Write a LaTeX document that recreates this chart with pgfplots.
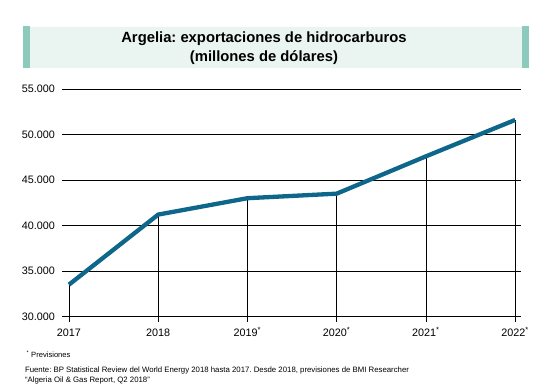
\documentclass[border=0pt]{standalone}
\usepackage{pgfplots}
\pgfplotsset{compat=1.18}
\usepackage{fontspec}
\setmainfont{Liberation Sans}
\frenchspacing
\definecolor{linec}{RGB}{14,102,138}
\definecolor{barc}{RGB}{140,203,188}
\definecolor{boxc}{RGB}{234,245,241}
\begin{document}
\begin{tikzpicture}[x=1pt,y=1pt]
\path[use as bounding box] (0,0) rectangle (548,386);
\fill[boxc] (30,359) rectangle (522,318.3);
\fill[barc] (23,360) rectangle (30,318.3);
\fill[barc] (522,360) rectangle (529,318.3);
\node[font=\bfseries\fontsize{14.8}{18.5}\selectfont, align=center] at (264,338) {Argelia: exportaciones de hidrocarburos\\(millones de dólares)};
\begin{axis}[
  at={(62pt,69.5pt)}, anchor=south west, scale only axis,
  width=458.5pt, height=227.5pt,
  xmin=2016.922, xmax=2022.06, ymin=30000, ymax=55000,
  axis line style={draw=none},
  xtick={2017,2018,2019,2020,2021,2022},
  xticklabels={2017,2018,2019\textsuperscript{*},2020\textsuperscript{*},2021\textsuperscript{*},2022\textsuperscript{*}},
  xtick pos=bottom, tick align=outside, major tick length=5pt,
  xtick style={black, line width=0.6pt},
  ytick={30000,35000,40000,45000,50000,55000},
  ytick style={draw=none},
  ymajorgrids, grid style={black, line width=0.6pt},
  scaled y ticks=false,
  /pgf/number format/.cd, 1000 sep={.}, assume math mode=true,
  /pgfplots/.cd,
  tick label style={font=\fontsize{10.8}{12}\selectfont},
  xticklabel style={yshift=-4pt, text height=7.8pt, text depth=0pt},
  yticklabel style={xshift=1.5pt},
]
\addplot[ycomb, black, line width=0.6pt] coordinates {
 (2017,33500) (2018,41200) (2019,43000) (2020,43500) (2021,47600) (2022,51600)};
\addplot[linec, line width=4.3pt, line join=round] coordinates {
 (2017,33500) (2018,41200) (2019,43000) (2020,43500) (2021,47600) (2022,51600)};
\end{axis}
\node[anchor=west, font=\fontsize{7.6}{8}\selectfont] at (23,32) {\textsuperscript{*} Previsiones};
\node[anchor=west, font=\fontsize{7.8}{9}\selectfont] at (21.5,16) {Fuente: BP Statistical Review del World Energy 2018 hasta 2017. Desde 2018, previsiones de BMI Researcher};
\node[anchor=west, font=\fontsize{7.8}{9}\selectfont] at (21.5,6) {“Algeria Oil \& Gas Report, Q2 2018”};
\end{tikzpicture}
\end{document}
